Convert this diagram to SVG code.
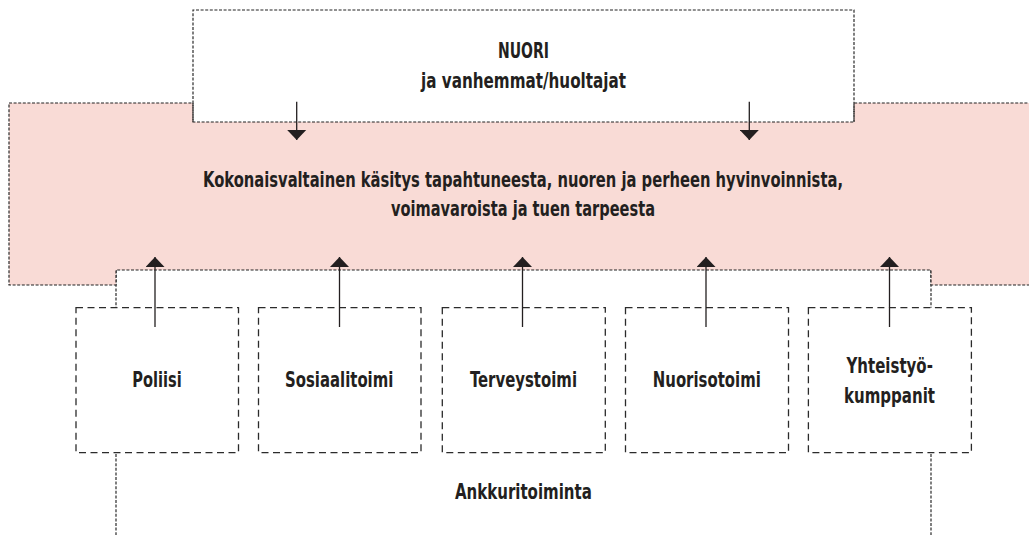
<svg xmlns="http://www.w3.org/2000/svg" width="1029" height="535" viewBox="0 0 1029 535">
<style>
.thin{fill:none;stroke:#222222;stroke-width:1.15;stroke-dasharray:3 1.6}
.box{fill:#ffffff;stroke:#2b2b2b;stroke-width:1.3;stroke-dasharray:7 4.5}
.lbl{font-family:"Liberation Sans Narrow","DejaVu Sans Condensed","Liberation Sans",sans-serif;font-weight:bold;font-size:21px;fill:#231f20;text-anchor:middle}
.arr{stroke:#231f20;stroke-width:1.3;fill:none}
</style>
<defs>
<marker id="dn" markerUnits="userSpaceOnUse" markerWidth="20" markerHeight="11" viewBox="0 0 20 11" refX="9.5" refY="10" orient="0">
<path d="M0,0 L19,0 L9.5,10 Z" fill="#231f20"/>
</marker>
<marker id="up" markerUnits="userSpaceOnUse" markerWidth="20" markerHeight="11" viewBox="0 0 20 11" refX="9.5" refY="0" orient="0">
<path d="M9.5,0 L19,10 L0,10 Z" fill="#231f20"/>
</marker>
</defs>
<rect width="1029" height="535" fill="#ffffff"/>
<g id="ankkuritoiminta">
<path class="thin" d="M116,270 V540 M931,270 V540"/>
<text class="lbl" x="523.4" y="499.3" textLength="137" lengthAdjust="spacingAndGlyphs">Ankkuritoiminta</text>
</g>
<g id="kokonaisvaltainen">
<path d="M9,103 H193 V122 H854 V103 H1032 V285 H931 V270 H116 V285 H9 Z" fill="#f9dbd6" stroke="none"/>
<path class="thin" d="M1032,103 H854 V122 H193 V103 H9 V285 H116 V270 H931 V285 H1032"/>
<text class="lbl" x="523" y="187.3" textLength="640" lengthAdjust="spacingAndGlyphs">Kokonaisvaltainen käsitys tapahtuneesta, nuoren ja perheen hyvinvoinnista,</text>
<text class="lbl" x="523" y="216" textLength="264" lengthAdjust="spacingAndGlyphs">voimavaroista ja tuen tarpeesta</text>
</g>
<g id="nuori">
<path class="thin" d="M193,122 V10 H854 V122"/>
<text class="lbl" x="523.5" y="58.3" textLength="51" lengthAdjust="spacingAndGlyphs">NUORI</text>
<text class="lbl" x="523.5" y="87.5" textLength="205" lengthAdjust="spacingAndGlyphs">ja vanhemmat/huoltajat</text>
</g>
<g id="poliisi">
<rect class="box" x="76" y="307.7" width="162.5" height="145"/>
<text class="lbl" x="157" y="387.3" textLength="49.4" lengthAdjust="spacingAndGlyphs">Poliisi</text>
</g>
<g id="sosiaalitoimi">
<rect class="box" x="258.5" y="307.7" width="162.5" height="145"/>
<text class="lbl" x="339.2" y="387.3" textLength="108.3" lengthAdjust="spacingAndGlyphs">Sosiaalitoimi</text>
</g>
<g id="terveystoimi">
<rect class="box" x="442.3" y="307.7" width="163" height="145"/>
<text class="lbl" x="523.5" y="387.3" textLength="107" lengthAdjust="spacingAndGlyphs">Terveystoimi</text>
</g>
<g id="nuorisotoimi">
<rect class="box" x="625.5" y="307.7" width="163" height="145"/>
<text class="lbl" x="706.8" y="387.3" textLength="108" lengthAdjust="spacingAndGlyphs">Nuorisotoimi</text>
</g>
<g id="yhteistyokumppanit">
<rect class="box" x="808.4" y="307.7" width="163" height="145"/>
<text class="lbl" x="889.7" y="372.7" textLength="86.4" lengthAdjust="spacingAndGlyphs">Yhteistyö-</text>
<text class="lbl" x="889.5" y="402.7" textLength="91" lengthAdjust="spacingAndGlyphs">kumppanit</text>
</g>
<g id="connectors">
<line class="arr" x1="296.7" y1="101.7" x2="296.7" y2="140" marker-end="url(#dn)"/>
<line class="arr" x1="749.3" y1="101.7" x2="749.3" y2="140" marker-end="url(#dn)"/>
<line class="arr" x1="155" y1="327" x2="155" y2="257" marker-end="url(#up)"/>
<line class="arr" x1="339.5" y1="327" x2="339.5" y2="257" marker-end="url(#up)"/>
<line class="arr" x1="522.5" y1="327" x2="522.5" y2="257" marker-end="url(#up)"/>
<line class="arr" x1="706" y1="327" x2="706" y2="257" marker-end="url(#up)"/>
<line class="arr" x1="889.5" y1="327" x2="889.5" y2="257" marker-end="url(#up)"/>
</g>
</svg>
